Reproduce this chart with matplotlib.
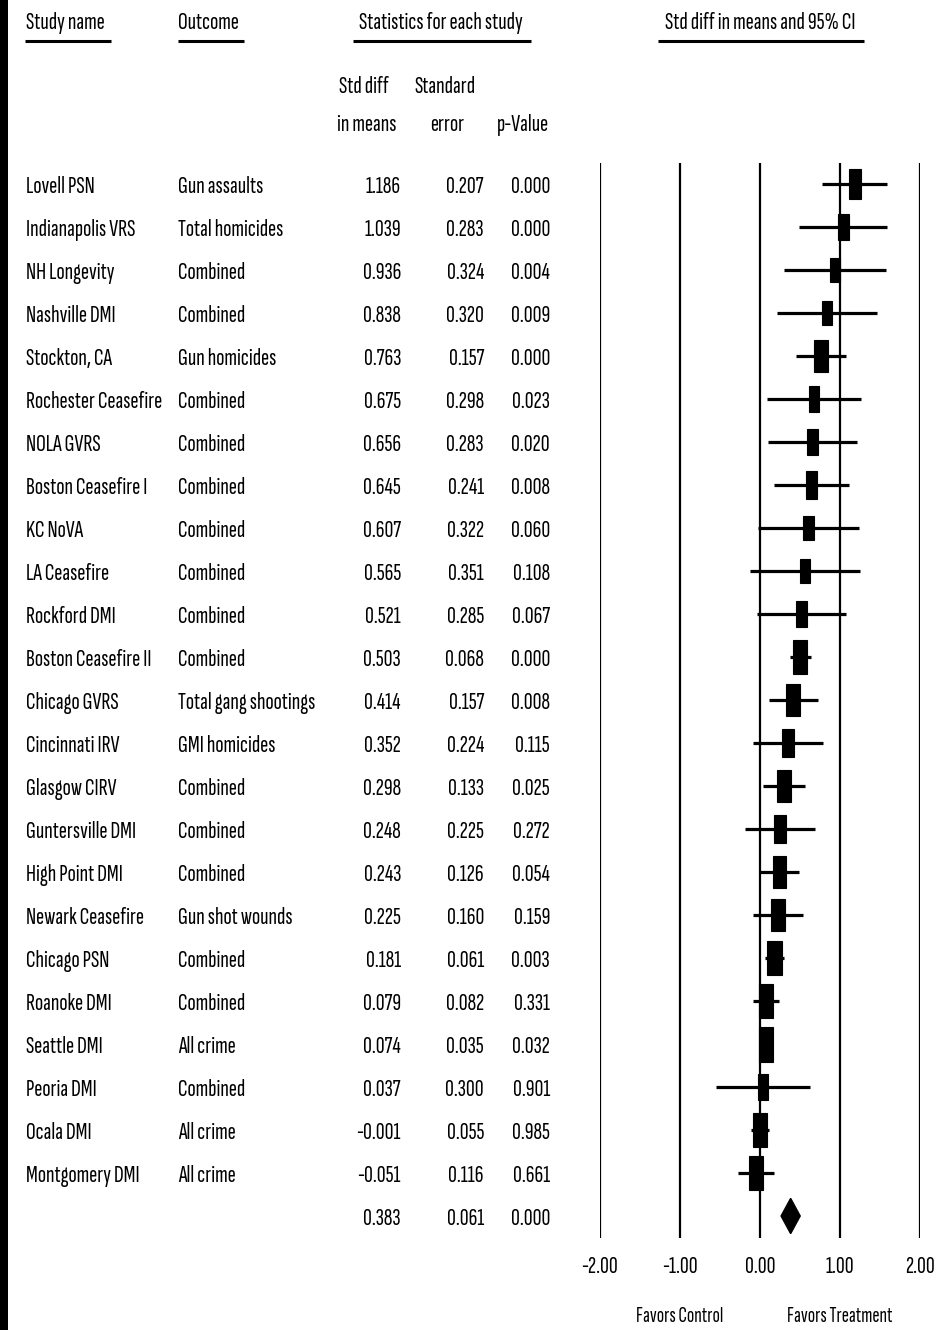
import matplotlib
matplotlib.use("Agg")
import matplotlib.pyplot as plt
import matplotlib.transforms as mtransforms
from matplotlib import font_manager as fm
from matplotlib.patches import Rectangle, Polygon
from matplotlib.lines import Line2D

# ---------------- data ----------------
studies = ["Lovell PSN", "Indianapolis VRS", "NH Longevity", "Nashville DMI", "Stockton, CA",
           "Rochester Ceasefire", "NOLA GVRS", "Boston Ceasefire I", "KC NoVA", "LA Ceasefire",
           "Rockford DMI", "Boston Ceasefire II", "Chicago GVRS", "Cincinnati IRV", "Glasgow CIRV",
           "Guntersville DMI", "High Point DMI", "Newark Ceasefire", "Chicago PSN", "Roanoke DMI",
           "Seattle DMI", "Peoria DMI", "Ocala DMI", "Montgomery DMI"]
outcomes = ["Gun assaults", "Total homicides", "Combined", "Combined", "Gun homicides",
            "Combined", "Combined", "Combined", "Combined", "Combined",
            "Combined", "Combined", "Total gang shootings", "GMI homicides", "Combined",
            "Combined", "Combined", "Gun shot wounds", "Combined", "Combined",
            "All crime", "Combined", "All crime", "All crime"]
std_diff = [1.186, 1.039, 0.936, 0.838, 0.763, 0.675, 0.656, 0.645, 0.607, 0.565,
            0.521, 0.503, 0.414, 0.352, 0.298, 0.248, 0.243, 0.225, 0.181, 0.079,
            0.074, 0.037, -0.001, -0.051]
std_err = [0.207, 0.283, 0.324, 0.320, 0.157, 0.298, 0.283, 0.241, 0.322, 0.351,
           0.285, 0.068, 0.157, 0.224, 0.133, 0.225, 0.126, 0.160, 0.061, 0.082,
           0.035, 0.300, 0.055, 0.116]
p_values = [0.000, 0.000, 0.004, 0.009, 0.000, 0.023, 0.020, 0.008, 0.060, 0.108,
            0.067, 0.000, 0.008, 0.115, 0.025, 0.272, 0.054, 0.159, 0.003, 0.331,
            0.032, 0.901, 0.985, 0.661]
summary_diff = 0.383
summary_se = 0.061
summary_p = 0.000
x_ticks = [-2, -1, 0, 1, 2]
x_tick_labels = ["-2.00", "-1.00", "0.00", "1.00", "2.00"]
favors_labels = ["Favors Control", "Favors Treatment"]
favors_x = [-1, 1]

# ---------------- style ----------------
W, H = 945, 1330
Z = 1.96
TAU2 = 0.1          # between-study variance used for the box weights

avail = {f.name for f in fm.fontManager.ttflist}
FONT = "DejaVu Sans"
for fam in ["Sofia Sans Extra Condensed", "Saira ExtraCondensed", "Fira Sans Extra Condensed",
            "Liberation Sans"]:
    if fam in avail:
        FONT = fam
        break
WEIGHT = "semibold"

fig = plt.figure(figsize=(W / 100, H / 100), dpi=100)
fig.patch.set_facecolor("white")
renderer = fig.canvas.get_renderer()

# fit font size so that the study names have the reference width
probe = fig.text(0, 0, "Lovell PSN", fontsize=10, family=FONT, weight=WEIGHT)
pw = probe.get_window_extent(renderer).width
probe.remove()
FS = min(20.0, 10 * 69.0 / pw)
TXT = dict(fontsize=FS, family=FONT, weight=WEIGHT, color="black")


def fx(px):
    return px / W


def fy(py):
    return 1 - py / H


# dark scan edge at the left
fig.patches.append(Rectangle((0, 0), fx(8), 1, transform=fig.transFigure,
                             facecolor="black", edgecolor="none"))

# ---------------- forest axes ----------------
n = len(studies)
row_px = 43.0
top_px = 162.5
ax_left, ax_right = 600, 920
ax_h_px = row_px * (n + 1)
ax = fig.add_axes([fx(ax_left), fy(top_px + ax_h_px), fx(ax_right - ax_left), ax_h_px / H])
ax.set_xlim(-2, 2)
ax.set_ylim(n + 0.5, -0.5)
for s in ax.spines.values():
    s.set_visible(False)
ax.set_yticks([])
ax.set_xticks(x_ticks)
ax.set_xticklabels(x_tick_labels, **TXT)
ax.tick_params(axis="x", length=0, pad=13)
for t in x_ticks:
    ax.axvline(t, color="black", lw=1.6, zorder=1)

px_per_x = (ax_right - ax_left) / 4.0
weights = [1.0 / (se ** 2 + TAU2) for se in std_err]
wmax = max(weights)
box_h_max = 35.0
for i, (d, se, w) in enumerate(zip(std_diff, std_err, weights)):
    lo, hi = d - Z * se, d + Z * se
    ax.plot([lo, hi], [i, i], color="black", lw=2.3, solid_capstyle="butt", zorder=2)
    h_px = box_h_max * (w / wmax) ** 0.5
    w_px = 0.42 * h_px
    hd = h_px / row_px
    wd = w_px / px_per_x
    ax.add_patch(Rectangle((d - wd / 2, i - hd / 2), wd, hd, facecolor="black",
                           edgecolor="black", lw=0.8, zorder=3))

# summary diamond
lo, hi = summary_diff - Z * summary_se, summary_diff + Z * summary_se
dh = 0.41
ax.add_patch(Polygon([(lo, n), (summary_diff, n - dh), (hi, n), (summary_diff, n + dh)],
                     closed=True, facecolor="black", edgecolor="black", zorder=3))

fav = dict(TXT)
fav["fontsize"] = FS * 0.88
for lab, xv in zip(favors_labels, favors_x):
    ax.annotate(lab, xy=(xv, H - 1317), xycoords=("data", "figure pixels"),
                ha="center", va="center", **fav)

# ---------------- table ----------------
rowtr = mtransforms.offset_copy(
    mtransforms.blended_transform_factory(fig.transFigure, ax.transData),
    fig=fig, x=0, y=-3, units="dots")
cols = [(26, "left"), (178, "left"), (401, "right"), (484, "right"), (550, "right")]
for i in range(n):
    vals = [studies[i], outcomes[i], f"{std_diff[i]:.3f}", f"{std_err[i]:.3f}",
            f"{p_values[i]:.3f}"]
    for (cx, ha), v in zip(cols, vals):
        ax.text(fx(cx), i, v, transform=rowtr, ha=ha, va="center", **TXT)
for (cx, ha), v in zip(cols[2:], [f"{summary_diff:.3f}", f"{summary_se:.3f}",
                                   f"{summary_p:.3f}"]):
    ax.text(fx(cx), n, v, transform=rowtr, ha=ha, va="center", **TXT)

# ---------------- headers ----------------
hdr_y = fy(23)
fig.text(fx(26), hdr_y, "Study name", ha="left", va="center", **TXT)
fig.text(fx(178), hdr_y, "Outcome", ha="left", va="center", **TXT)
fig.text(fx(441), hdr_y, "Statistics for each study", ha="center", va="center", **TXT)
fig.text(fx(760), hdr_y, "Std diff in means and 95% CI", ha="center", va="center", **TXT)
for x0, x1 in [(25, 111), (178, 244), (353, 531), (658, 864)]:
    fig.add_artist(Line2D([fx(x0), fx(x1)], [fy(41), fy(41)], transform=fig.transFigure,
                          color="black", lw=2.2, solid_capstyle="butt"))

for label, cx, py in [("Std diff", 364, 87), ("in means", 367, 125),
                      ("Standard", 445, 87), ("error", 447, 125), ("p-Value", 523, 125)]:
    fig.text(fx(cx), fy(py), label, ha="center", va="center", **TXT)

fig.savefig("out.png", dpi=100, facecolor="white")
